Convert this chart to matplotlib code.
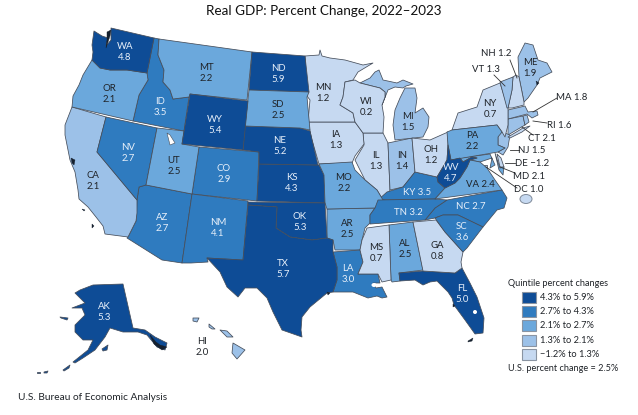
# Real GDP choropleth, state outlines traced in image pixels
import matplotlib
matplotlib.use("Agg")
import matplotlib.pyplot as plt
from matplotlib.patches import Polygon, Ellipse, Rectangle

plt.rcParams['font.family'] = ['Lato', 'DejaVu Sans']

states = ['AL','AK','AZ','AR','CA','CO','CT','DE','DC','FL','GA','HI','ID','IL','IN','IA','KS',
          'KY','LA','ME','MD','MA','MI','MN','MS','MO','MT','NE','NV','NH','NJ','NM','NY','NC',
          'ND','OH','OK','OR','PA','RI','SC','SD','TN','TX','UT','VT','VA','WA','WV','WI','WY']
changes = ['2.5','5.3','2.7','2.5','2.1','2.9','2.1','\u22121.2','1.0','5.0','0.8','2.0','3.5','1.3','1.4','1.3','4.3',
           '3.5','3.0','1.9','2.1','1.8','1.5','1.2','0.7','2.2','2.2','5.2','2.7','1.2','1.5','4.1','0.7','2.7',
           '5.9','1.2','5.3','2.1','2.2','1.6','3.6','2.5','3.2','5.7','2.5','1.3','2.4','4.8','4.7','0.2','5.4']
# quintile of each state, 0 = top
quintile = [2,0,1,2,3,1,3,4,4,0,4,3,1,4,3,4,0,
            1,1,3,2,3,3,4,4,2,2,0,1,4,3,1,4,1,
            0,4,0,2,2,3,1,2,1,0,2,3,2,0,0,4,0]

colors = ['#0e4c96', '#2f7bbf', '#6ba8dc', '#9cc1e8', '#c6d9f1']
legend_labels = ['4.3% to 5.9%', '2.7% to 4.3%', '2.1% to 2.7%', '1.3% to 2.1%', '\u22121.2% to 1.3%']

outlines = {
 'WA': [[(94,31),(102,36),(108,38),(106,46),(111,40),(111,28),(154,38),(147,73),(127,70),(110,70),(100,68),(92,60),(93,52),(92,45)]],
 'OR': [[(92,60),(100,68),(110,70),(127,70),(147,73),(148,80),(139,95),(133,121),(72,107),(73,96),(79,85),(83,75)]],
 'CA': [[(72,107),(106,117),(97,152),(137,200),(137,213),(136,221),(128,237),(105,234),(103,226),(96,217),(88,207),(79,199),(78,190),(75,172),(70,160),(68,150),(65,135),(65,125)]],
 'NV': [[(106,117),(157,128),(146,185),(139,187),(137,200),(97,152)]],
 'ID': [[(154,38),(159,39),(158,55),(164,70),(163,82),(170,90),(173,99),(189,97),(184,131),(133,121),(139,95),(148,80),(147,73)]],
 'MT': [[(159,39),(252,52),(247,100),(190,94),(189,97),(173,99),(170,90),(163,82),(164,70),(158,55)]],
 'WY': [[(190,94),(248,101),(243,150),(182,144)]],
 'UT': [[(157,128),(184,131),(182,144),(199,147),(192,194),(146,185)]],
 'CO': [[(199,147),(259,152),(257,201),(192,194)]],
 'AZ': [[(146,185),(192,194),(182,263),(162,260),(127,238),(128,237),(136,221),(137,200),(139,187)]],
 'NM': [[(192,194),(248,201),(243,260),(207,258),(208,262),(191,263),(182,263)]],
 'ND': [[(252,52),(305,56),(309,92),(249,90)]],
 'SD': [[(249,90),(309,92),(307,97),(310,130),(300,128),(245,126)]],
 'NE': [[(245,126),(300,128),(310,131),(318,165),(259,164),(259,152),(243,150)]],
 'KS': [[(259,164),(319,165),(324,175),(325,203),(257,201)]],
 'OK': [[(248,202),(325,203),(327,238),(312,240),(290,237),(276,228),(277,207),(248,205)]],
 'TX': [[(248,205),(277,207),(276,228),(290,237),(312,240),(327,238),(333,240),(333,252),(337,267),(337,280),(333,292),(327,293),(310,307),(302,317),(301,330),(302,337),(282,330),(273,312),(267,298),(257,288),(245,288),(238,297),(227,287),(220,272),(207,258),(243,260)]],
 'MN': [[(305,56),(319,55),(320,50),(322,56),(330,58),(345,60),(363,65),(373,63),(358,72),(353,80),(345,82),(343,97),(340,105),(353,113),(355,122),(308,122),(310,100),(307,96)]],
 'WI': [[(345,82),(355,80),(360,83),(380,88),(385,92),(385,97),(382,105),(384,117),(383,133),(363,133),(355,122),(353,113),(340,105),(343,97)]],
 'IA': [[(308,122),(355,122),(363,133),(364,144),(355,156),(352,163),(319,164),(312,140)]],
 'MO': [[(319,164),(352,162),(355,170),(365,180),(377,190),(383,200),(378,205),(375,208),(327,209),(325,203),(324,175)]],
 'AR': [[(327,209),(375,208),(370,215),(370,223),(365,228),(362,240),(360,250),(335,250),(333,240),(327,238)]],
 'LA': [[(333,252),(360,250),(363,262),(358,274),(378,274),(380,283),(373,283),(376,288),(382,287),(387,297),(382,298),(377,296),(368,298),(353,292),(333,292),(337,280),(337,267)]],
 'MS': [[(367,228),(389,225),(391,280),(382,282),(378,274),(358,274),(363,262),(360,250),(362,240)]],
 'AL': [[(389,225),(413,222),(423,270),(399,273),(400,281),(392,282),(391,280)]],
 'GA': [[(413,222),(436,220),(445,232),(463,252),(461,262),(462,268),(455,273),(423,271)]],
 'FL': [[(399,273),(423,271),(455,273),(462,268),(470,283),(477,297),(484,318),(483,333),(475,334),(465,320),(454,305),(452,298),(448,292),(437,281),(430,282),(423,285),(415,280),(400,281)]],
 'SC': [[(435,218),(443,215),(458,215),(483,227),(467,248),(463,252),(445,232)]],
 'NC': [[(425,220),(435,208),(447,200),(502,190),(507,198),(504,208),(497,210),(483,227),(458,215),(443,215),(435,218)]],
 'TN': [[(375,208),(378,200),(435,199),(447,200),(435,208),(425,220),(370,224),(370,215)]],
 'KY': [[(378,200),(387,192),(403,187),(415,172),(437,177),(438,182),(445,188),(435,199)]],
 'VA': [[(435,199),(445,188),(455,183),(460,178),(467,167),(470,160),(480,162),(487,168),(495,180),(502,190)]],
 'WV': [[(448,145),(451,160),(460,158),(463,162),(472,157),(477,158),(470,160),(467,167),(460,178),(455,183),(445,188),(438,182),(437,177),(443,167),(447,160)]],
 'OH': [[(412,138),(430,140),(448,132),(448,145),(447,160),(443,167),(437,177),(415,172)]],
 'IN': [[(388,143),(412,138),(415,172),(403,187),(390,190)]],
 'IL': [[(363,133),(383,133),(388,143),(390,190),(387,198),(383,200),(377,190),(365,180),(355,160),(364,145)]],
 'MI': [[(395,140),(393,125),(395,110),(400,98),(405,88),(415,88),(417,98),(415,113),(423,108),(429,117),(428,127),(423,137)],
        [(360,83),(370,78),(375,72),(379,70),(383,80),(397,83),(403,80),(413,84),(406,86),(403,88),(395,87),(388,90),(382,105),(385,97),(385,92),(380,88)]],
 'PA': [[(447,132),(452,130),(497,125),(502,132),(498,137),(498,145),(505,148),(498,152),(451,160),(448,145)]],
 'NY': [[(452,130),(458,113),(477,107),(483,90),(500,83),(508,108),(508,125),(505,137),(502,132),(497,125)],
        [(508,137),(523,128),(530,126),(522,132),(510,138)]],
 'NJ': [[(498,133),(502,132),(510,135),(508,147),(503,155),(498,152),(505,148),(498,145)]],
 'DE': [[(497,154),(501,158),(504,167),(500,167)]],
 'MD': [[(451,160),(460,158),(490,154),(495,165),(490,168),(492,158),(480,162),(470,160),(477,158),(472,157),(463,162),(460,158)],
        [(495,153),(500,168),(504,167),(503,175),(499,170)]],
 'DC': [[(484,165),(487,165),(487,168),(484,168)]],
 'VT': [[(500,82),(513,77),(512,90),(508,108),(507,108)]],
 'NH': [[(513,77),(516,75),(519,77),(524,102),(524,105),(512,108),(508,108),(512,90)]],
 'ME': [[(519,77),(518,57),(523,47),(525,43),(533,45),(538,60),(547,63),(552,72),(540,78),(537,85),(528,98),(524,102)]],
 'MA': [[(508,110),(525,106),(528,112),(537,111),(538,115),(532,118),(527,114),(508,119)]],
 'CT': [[(508,119),(523,116),(525,125),(508,135)]],
 'RI': [[(523,116),(527,115),(529,122),(525,125)]],
 'AK': [[(75,293),(80,290),(93,285),(123,284),(133,328),(145,330),(155,337),(167,343),(165,350),(157,347),(147,335),(138,332),(123,332),(110,328),(105,337),(95,350),(83,358),(75,363),(73,362),(88,350),(93,340),(83,340),(75,332),(75,325),(85,315),(82,308),(72,308),(85,303),(80,298)],
        [(102,349),(108,345),(107,350),(103,351)], [(63,370),(70,365),(69,368),(64,371)], [(60,317),(68,318),(67,320),(61,318)],
        [(37,372),(40,372),(40,373),(37,373)], [(44,372),(48,371),(47,373),(44,373)]],
 'HI': [[(233,343),(245,350),(237,359),(232,353)], [(220,330),(227,331),(233,337),(227,337)], [(209,324),(215,329),(212,329),(209,327)],
        [(193,318),(199,318),(197,322),(193,321)]],
}

# where the value goes, (x, y, on one line or not)
labels = {
 'WA':(125,52,0),'OR':(109,94,0),'CA':(93,181,0),'NV':(128,153,0),'ID':(160,107,0),'MT':(206,73,0),'WY':(215,125,0),
 'UT':(174,166,0),'CO':(224,174,0),'AZ':(162,223,0),'NM':(218,228,0),'ND':(278,74,0),'SD':(278,110,0),'NE':(280,146,0),
 'KS':(292,183,0),'OK':(300,222,0),'TX':(283,269,0),'MN':(323,93,0),'WI':(366,107,0),'IA':(336,140,0),'MO':(344,183,0),
 'AR':(347,229,0),'LA':(348,274,0),'MS':(376,253,0),'AL':(405,249,0),'GA':(437,251,0),'FL':(462,294,0),'SC':(462,232,0),
 'IL':(376,161,0),'IN':(402,161,0),'MI':(408,122,0),'OH':(431,155,0),'PA':(472,141,0),'NY':(490,109,0),'ME':(530,68,0),
 'WV':(451,173,0),'AK':(104,312,0),'HI':(202,347,0),
 'KY':(417,192,1),'TN':(408,212,1),'NC':(471,206,1),'VA':(480,184,1),'NH':(496,54,1),'VT':(486,70,1),'MA':(572,97,1),
 'RI':(559,125,1),'CT':(542,138,1),'NJ':(532,150,1),'DE':(532,163,1),'MD':(529,176,1),'DC':(529,189,1),
}

# leader lines for the small northeast states
leaders = [((510,60),(517,78)), ((494,75),(505,86)), ((557,98),(533,112)), ((547,123),(533,121)),
           ((533,135),(522,127)), ((519,150),(510,150)), ((515,163),(505,163)), ((515,173),(500,167)), ((517,188),(486,167))]

# bays and island clusters that show up as dark specks
specks = [[(107,32),(111,30),(110,36),(108,42),(106,48),(107,40)], [(71,158),(75,160),(74,165),(72,163)],
          [(82,209),(85,210),(84,211)], [(92,224),(94,226),(92,228)],
          [(150,335),(156,342),(160,345),(167,347),(162,350),(154,344)], [(453,304),(455,306),(453,307)],
          [(468,341),(473,338),(472,341),(468,342)], [(536,81),(539,83),(537,85)], [(330,293),(327,292),(328,295)]]

edge = '#454d5a'
text_dark = '#1f2328'
text_light = '#e8f0fa'

fig = plt.figure(figsize=(6.38, 4.15), dpi=100)
ax = fig.add_axes([0, 0, 1, 1])
ax.set_xlim(0, 638)
ax.set_ylim(415, 0)
ax.axis('off')

for st, chg, q in zip(states, changes, quintile):
    for part in outlines[st]:
        ax.add_patch(Polygon(part, closed=True, fc=colors[q], ec=edge, lw=0.55, joinstyle='round'))

for sp in specks:
    ax.add_patch(Polygon(sp, closed=True, fc='#15202e', ec='#15202e', lw=0.3))

# water
ax.add_patch(Polygon([(167,133),(170,135),(175,143),(170,145)], fc='white', ec=edge, lw=0.4))
ax.add_patch(Ellipse((475,312), 4, 4, fc='white', ec='none'))
ax.add_patch(Ellipse((374,285), 5, 4, fc='white', ec='none'))

# DC marker
ax.add_patch(Ellipse((526,199), 12, 9, fc=colors[4], ec='#7f8a99', lw=0.7))

for a, b in leaders:
    ax.plot([a[0], b[0]], [a[1], b[1]], color='#333333', lw=0.6)

for st, chg, q in zip(states, changes, quintile):
    x, y, inline = labels[st]
    fc = text_light if q < 2 else text_dark
    txt = st + (' ' if inline else '\n') + chg
    ax.text(x, y, txt, ha='center', va='center', fontsize=6.9, color=fc, linespacing=1.25)

ax.text(324, 11, 'Real GDP: Percent Change, 2022\u20132023', ha='center', va='center', fontsize=9.7, color='#111111')

ax.text(508, 283, 'Quintile percent changes', ha='left', va='center', fontsize=6.6, color=text_dark)
for i, (c, lab) in enumerate(zip(colors, legend_labels)):
    top = 292 + i * 14.2
    ax.add_patch(Rectangle((522, top), 14, 11, fc=c, ec='#8a94a2', lw=0.8))
    ax.text(540, top + 5.5, lab, ha='left', va='center', fontsize=6.7, color=text_dark)
ax.text(508, 368, 'U.S. percent change = 2.5%', ha='left', va='center', fontsize=6.6, color=text_dark)

ax.text(18, 397, 'U.S. Bureau of Economic Analysis', ha='left', va='center', fontsize=7.3, color=text_dark)

fig.savefig('out.png', dpi=100)
